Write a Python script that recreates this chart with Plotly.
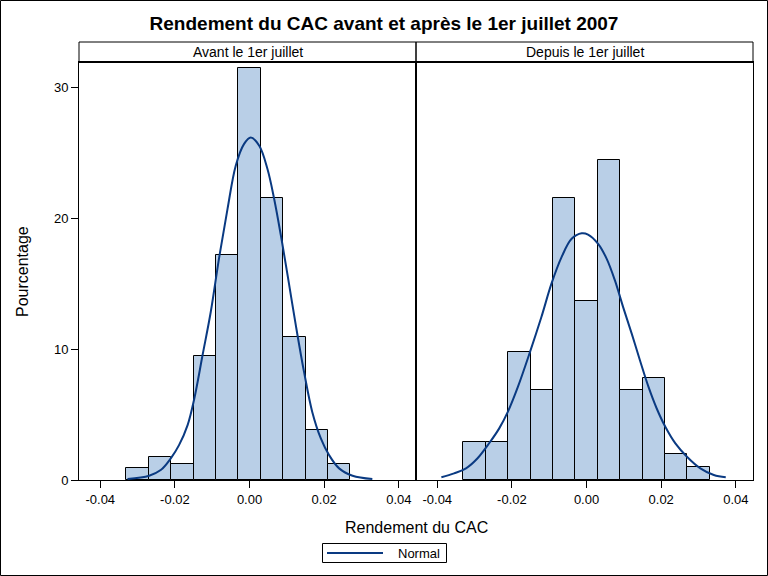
import plotly.graph_objects as go

# ---------------- data ----------------
TITLE = "Rendement du CAC avant et après le 1er juillet 2007"
PANEL_LABELS = ["Avant le 1er juillet", "Depuis le 1er juillet"]
X_TITLE = "Rendement du CAC"
Y_TITLE = "Pourcentage"
LEGEND_LABEL = "Normal"

X_TICKVALS = [-0.04, -0.02, 0.0, 0.02, 0.04]
X_TICKTEXT = ["-0.04", "-0.02", "0.00", "0.02", "0.04"]
Y_TICKVALS = [0, 10, 20, 30]
Y_TICKTEXT = ["0", "10", "20", "30"]

BIN_WIDTH = 0.006

# Before July 1st (left panel)
before_centers = [-0.030, -0.024, -0.018, -0.012, -0.006, 0.000, 0.006, 0.012, 0.018, 0.024]
before_pct = [0.89, 1.75, 1.20, 9.50, 17.20, 31.50, 21.60, 10.95, 3.85, 1.20]

before_curve_x = [-0.0327, -0.0269, -0.0238, -0.0211, -0.0189, -0.0166, -0.0148, -0.0126,
                  -0.0104, -0.0082, -0.0059, -0.0037, -0.0015, 0.0003, 0.0026, 0.0048,
                  0.0066, 0.0084, 0.0102, 0.0124, 0.0146, 0.0168, 0.0191, 0.0213,
                  0.0240, 0.0276, 0.0329]
before_curve_y = [0.08, 0.33, 0.76, 1.66, 2.67, 4.20, 6.24, 9.54,
                  12.85, 16.92, 20.74, 24.05, 25.70, 26.21, 25.57, 23.79,
                  21.50, 18.70, 15.65, 11.83, 8.27, 5.21, 3.18, 1.91,
                  0.89, 0.33, 0.08]

# Since July 1st (right panel)
after_centers = [-0.030, -0.024, -0.018, -0.012, -0.006, 0.000, 0.006, 0.012, 0.018, 0.024, 0.030]
after_pct = [2.94, 2.94, 9.80, 6.86, 21.57, 13.73, 24.51, 6.86, 7.84, 1.96, 0.98]

after_curve_x = [-0.0389, -0.0355, -0.0323, -0.0292, -0.0261, -0.0234, -0.0211, -0.0184,
                 -0.0153, -0.0121, -0.0094, -0.0067, -0.0040, -0.0013, 0.0004, 0.0031,
                 0.0054, 0.0076, 0.0098, 0.0121, 0.0143, 0.0166, 0.0188, 0.0211,
                 0.0238, 0.0269, 0.0305, 0.0341, 0.0373]
after_curve_y = [0.21, 0.51, 0.89, 1.66, 2.81, 3.95, 5.21, 7.12,
                 9.67, 12.47, 15.02, 17.05, 18.46, 18.88, 18.78, 18.07,
                 16.92, 15.27, 13.23, 11.20, 9.16, 7.12, 5.47, 4.07,
                 2.80, 1.78, 0.89, 0.38, 0.21]

# ---------------- style ----------------
FONT = "Liberation Sans, Arial, sans-serif"
BAR_FILL = "#B9CFE7"
CURVE_COLOR = "#0A3A82"
X_RANGE = [-0.0457, 0.0446]
Y_RANGE = [0, 31.98]
W, H = 768, 576
ML, MR, MT, MB = 79, 15, 42, 96
PW, PH = W - ML - MR, H - MT - MB
HEADER_PX = 20
Y_TOP = 1 - HEADER_PX / PH


def px_x(px):
    return (px - ML) / PW


def px_y(py):
    return (H - MB - py) / PH


fig = go.Figure()

fig.add_trace(go.Bar(x=before_centers, y=before_pct, width=BIN_WIDTH,
                     marker=dict(color=BAR_FILL, line=dict(color="black", width=1)),
                     xaxis="x", yaxis="y", showlegend=False, hoverinfo="x+y"))
fig.add_trace(go.Bar(x=after_centers, y=after_pct, width=BIN_WIDTH,
                     marker=dict(color=BAR_FILL, line=dict(color="black", width=1)),
                     xaxis="x2", yaxis="y2", showlegend=False, hoverinfo="x+y"))
fig.add_trace(go.Scatter(x=before_curve_x, y=before_curve_y, mode="lines",
                         line=dict(color=CURVE_COLOR, width=2, shape="spline"),
                         xaxis="x", yaxis="y", name=LEGEND_LABEL, showlegend=False))
fig.add_trace(go.Scatter(x=after_curve_x, y=after_curve_y, mode="lines",
                         line=dict(color=CURVE_COLOR, width=2, shape="spline"),
                         xaxis="x2", yaxis="y2", name=LEGEND_LABEL, showlegend=False))

axis_common = dict(showline=True, mirror=True, linecolor="black", linewidth=1,
                   showgrid=False, zeroline=False, ticks="outside", ticklen=7,
                   tickcolor="black", tickwidth=1,
                   tickfont=dict(family=FONT, size=13, color="black"))

fig.update_layout(
    width=W, height=H,
    margin=dict(l=ML, r=MR, t=MT, b=MB, autoexpand=False),
    paper_bgcolor="white", plot_bgcolor="white",
    font=dict(family=FONT, color="black"),
    bargap=0,
    title=dict(text="<b>" + TITLE + "</b>", x=0.5, xref="container", xanchor="center",
               y=1 - 23 / H, yref="container", yanchor="middle",
               font=dict(family=FONT, size=19, color="black")),
    xaxis=dict(domain=[0, 0.5], range=X_RANGE, tickvals=X_TICKVALS, ticktext=X_TICKTEXT,
               anchor="y", **axis_common),
    xaxis2=dict(domain=[0.5, 1], range=X_RANGE, tickvals=X_TICKVALS, ticktext=X_TICKTEXT,
                anchor="y2", **axis_common),
    yaxis=dict(domain=[0, Y_TOP], range=Y_RANGE, tickvals=Y_TICKVALS, ticktext=Y_TICKTEXT,
               anchor="x", **axis_common),
    yaxis2=dict(domain=[0, Y_TOP], range=Y_RANGE, anchor="x2", matches="y",
                showline=True, mirror=True, linecolor="black", linewidth=1,
                showgrid=False, zeroline=False, ticks="", showticklabels=False),
    showlegend=False,
)

shapes = [
    # outer frame
    dict(type="rect", xref="paper", yref="paper",
         x0=px_x(0.5), x1=px_x(W - 0.5), y0=px_y(H - 0.5), y1=px_y(0.5),
         line=dict(color="black", width=1), fillcolor="rgba(0,0,0,0)", layer="above"),
    # panel headers
    dict(type="rect", xref="paper", yref="paper", x0=0, x1=0.5, y0=Y_TOP, y1=1,
         line=dict(color="black", width=1)),
    dict(type="rect", xref="paper", yref="paper", x0=0.5, x1=1, y0=Y_TOP, y1=1,
         line=dict(color="black", width=1)),
    dict(type="line", xref="paper", yref="paper", x0=0, x1=1, y0=Y_TOP, y1=Y_TOP,
         line=dict(color="black", width=2)),
    dict(type="line", xref="paper", yref="paper", x0=0.5, x1=0.5, y0=0, y1=Y_TOP,
         line=dict(color="black", width=2)),
    # legend box and its line sample
    dict(type="rect", xref="paper", yref="paper",
         x0=px_x(322.5), x1=px_x(446.5), y0=px_y(562.5), y1=px_y(543.5),
         line=dict(color="black", width=1), fillcolor="white"),
    dict(type="line", xref="paper", yref="paper",
         x0=px_x(327), x1=px_x(383), y0=px_y(553), y1=px_y(553),
         line=dict(color=CURVE_COLOR, width=2)),
]
fig.update_layout(shapes=shapes)

annotations = [
    dict(text=PANEL_LABELS[0], xref="paper", yref="paper", x=0.25, y=(Y_TOP + 1) / 2,
         xanchor="center", yanchor="middle", showarrow=False,
         font=dict(family=FONT, size=14, color="black")),
    dict(text=PANEL_LABELS[1], xref="paper", yref="paper", x=0.75, y=(Y_TOP + 1) / 2,
         xanchor="center", yanchor="middle", showarrow=False,
         font=dict(family=FONT, size=14, color="black")),
    dict(text=X_TITLE, xref="paper", yref="paper", x=0.5, y=px_y(527),
         xanchor="center", yanchor="middle", showarrow=False,
         font=dict(family=FONT, size=16, color="black")),
    dict(text=Y_TITLE, xref="paper", yref="paper", x=px_x(22), y=Y_TOP / 2,
         xanchor="center", yanchor="middle", showarrow=False, textangle=-90,
         font=dict(family=FONT, size=16, color="black")),
    dict(text=LEGEND_LABEL, xref="paper", yref="paper", x=px_x(396), y=px_y(553),
         xanchor="left", yanchor="middle", showarrow=False,
         font=dict(family=FONT, size=13, color="black")),
]
fig.update_layout(annotations=annotations)

fig.write_html("out.html")
